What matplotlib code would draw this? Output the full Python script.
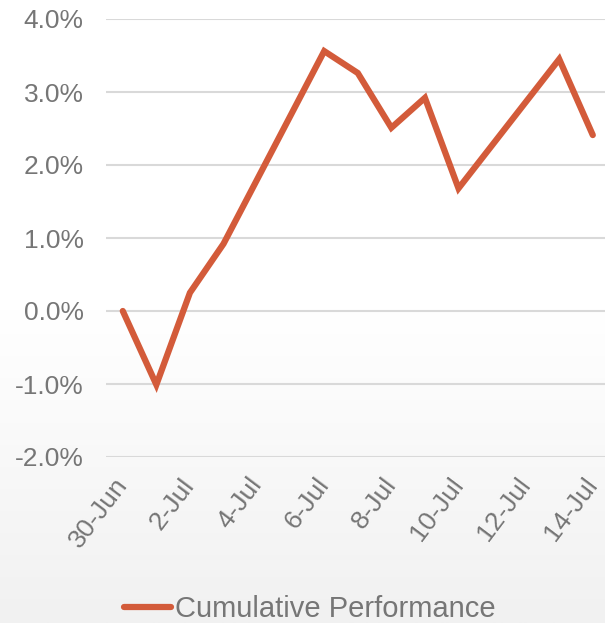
import numpy as np
import matplotlib.pyplot as plt

# Data
dates = ['30-Jun', '1-Jul', '2-Jul', '3-Jul', '4-Jul', '5-Jul', '6-Jul', '7-Jul',
         '8-Jul', '9-Jul', '10-Jul', '11-Jul', '12-Jul', '13-Jul', '14-Jul']
perf = [0.00, -1.01, 0.25, 0.92, 1.80, 2.68, 3.56, 3.26,
        2.51, 2.92, 1.68, 2.27, 2.86, 3.45, 2.41]
yticks = [-2, -1, 0, 1, 2, 3, 4]

plt.rcParams['font.family'] = ['Liberation Sans', 'DejaVu Sans']
grey = '#767676'
red = '#D35B3A'

W, H = 605, 623
fig = plt.figure(figsize=(W / 100, H / 100), dpi=100)

# background gradient
bg = fig.add_axes([0, 0, 1, 1], zorder=-10)
grad = np.linspace(0, 1, 256).reshape(-1, 1)
bg.imshow(grad, aspect='auto', cmap=plt.matplotlib.colors.LinearSegmentedColormap.from_list(
    'g', ['#ffffff', '#ffffff', '#f1f1f1']), extent=[0, 1, 0, 1], origin='upper')
bg.axis('off')

step = 470 / 14
left = 106
width = 15 * step
ax = fig.add_axes([left / W, (H - 457) / H, width / W, (457 - 19) / H])
ax.patch.set_alpha(0)
x = np.arange(len(dates))
ax.plot(x, perf, color=red, lw=4.5, solid_joinstyle='miter', solid_capstyle='round',
        label='Cumulative Performance')
ax.set_xlim(-0.5, 14.5)
ax.set_ylim(-2, 4)
ax.set_yticks(yticks)
ax.set_yticklabels([f'{v:.1f}%' for v in yticks])
ax.set_xticks(x[::2])
ax.set_xticklabels(dates[::2], rotation=53, ha='right', va='center', rotation_mode='anchor')
ax.grid(axis='y', color='#d9d9d9', lw=1.5)
ax.set_axisbelow(True)
for s in ax.spines.values():
    s.set_visible(False)
ax.tick_params(length=0, colors=grey, labelsize=19)
ax.tick_params(axis='y', pad=16)
ax.tick_params(axis='x', pad=17)

fig.legend(loc='center', bbox_to_anchor=(0.512, (H - 609) / H), frameon=False,
           fontsize=21, labelcolor=grey, handlelength=1.6, handletextpad=0.15)

fig.savefig('out.png', dpi=100)
